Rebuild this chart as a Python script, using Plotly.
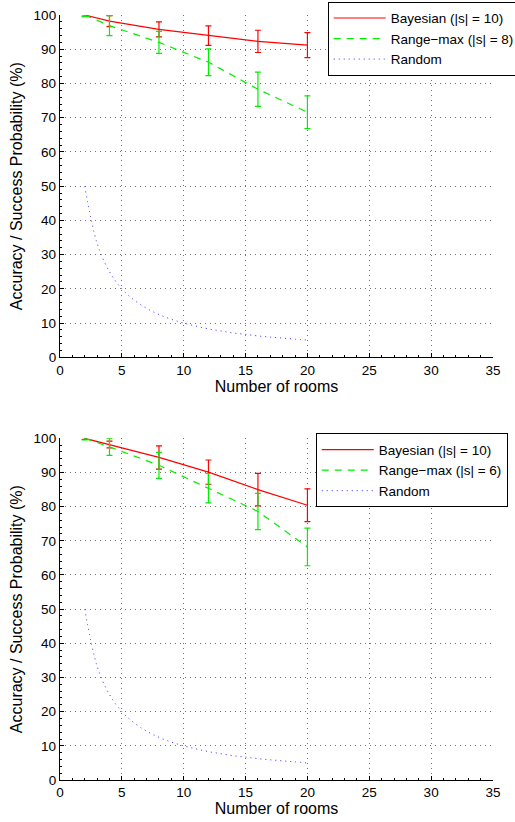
import plotly.graph_objects as go

rooms = [2, 4, 8, 12, 16, 20]

# Top panel
bayes_top = [100, 98.2, 95.8, 94.0, 92.3, 91.2]
bayes_top_err = [0.3, 1.6, 2.2, 2.85, 3.25, 3.65]
range_top = [100, 96.9, 92.0, 86.2, 78.3, 71.6]
range_top_err = [0.5, 2.9, 3.2, 3.9, 5.0, 4.8]

# Bottom panel
bayes_bot = [100, 98.2, 94.4, 90.1, 85.0, 80.4]
bayes_bot_err = [0.3, 1.0, 3.4, 3.55, 4.75, 4.8]
range_bot = [100, 97.5, 92.1, 85.4, 78.6, 68.2]
range_bot_err = [0.5, 2.5, 3.8, 4.3, 5.3, 5.5]

# Random guess curve
random_x = [2, 3, 4, 5, 6, 7, 8, 9, 10, 11, 12, 13, 14, 15, 16, 17, 18, 19, 20]
random_y = [50, 33.3, 25, 20, 16.7, 14.3, 12.5, 11.1, 10, 9.1, 8.3, 7.7, 7.1,
            6.7, 6.25, 5.9, 5.6, 5.3, 5]

legend_top = ["Bayesian (|s| = 10)", "Range\u2212max (|s| = 8)", "Random"]
legend_bot = ["Bayesian (|s| = 10)", "Range\u2212max (|s| = 6)", "Random"]

x_ticks = [0, 5, 10, 15, 20, 25, 30, 35]
y_ticks = [0, 10, 20, 30, 40, 50, 60, 70, 80, 90, 100]

RED = "#ff0000"
GREEN = "#00ee00"
BLUE = "#3030ff"
FONT = "Liberation Sans, Arial, sans-serif"

W, H = 515, 822
L, R, T, B = 59.5, 493.3, 15, 780   # plot area edges (px)
PW, PH = R - L, B - T

fig = go.Figure()


def add_panel(xa, ya, leg, bayes, berr, rng, rerr, names):
    fig.add_trace(go.Scatter(
        x=rooms, y=bayes, name=names[0], mode="lines",
        line=dict(color=RED, width=1.2),
        error_y=dict(type="data", array=berr, color=RED, thickness=1.2, width=3),
        xaxis=xa, yaxis=ya, legend=leg))
    fig.add_trace(go.Scatter(
        x=rooms, y=rng, name=names[1], mode="lines",
        line=dict(color=GREEN, width=1.2, dash="7px,6px"),
        error_y=dict(type="data", array=rerr, color=GREEN, thickness=1.2, width=3),
        xaxis=xa, yaxis=ya, legend=leg))
    fig.add_trace(go.Scatter(
        x=random_x, y=random_y, name=names[2], mode="lines",
        line=dict(color=BLUE, width=1, dash="1px,4px", shape="spline"),
        xaxis=xa, yaxis=ya, legend=leg))


add_panel("x", "y", "legend", bayes_top, bayes_top_err, range_top, range_top_err, legend_top)
add_panel("x2", "y2", "legend2", bayes_bot, bayes_bot_err, range_bot, range_bot_err, legend_bot)

axis_common = dict(
    showline=True, linecolor="black", linewidth=1.3,
    ticks="inside", ticklen=4, tickcolor="black",
    showgrid=True, gridcolor="rgba(0,0,0,0.55)", griddash="1px,4px", gridwidth=1,
    zeroline=False, tickfont=dict(size=13.5, color="black", family=FONT),
    mirror=False, automargin=False,
)

xaxis_cfg = dict(axis_common, range=[0, 35], tickvals=x_ticks,
                 title=dict(text="Number of rooms", font=dict(size=16, family=FONT, color="black"), standoff=2),
                 minor=dict(ticks="inside", ticklen=2, tickcolor="black", dtick=1, showgrid=False))
yaxis_cfg = dict(axis_common, range=[0, 100], tickvals=y_ticks,
                 title=dict(text="Accuracy / Success Probability (%)", font=dict(size=16, family=FONT, color="black"), standoff=7),
                 minor=dict(ticks="inside", ticklen=2, tickcolor="black", dtick=2, showgrid=False))


def ydom(top_px, bot_px):
    return [(B - bot_px) / PH, (B - top_px) / PH]


legend_common = dict(xanchor="left", yanchor="top",
                     bordercolor="black", borderwidth=1, bgcolor="white",
                     font=dict(size=13.5, family=FONT, color="black"),
                     tracegroupgap=0, itemwidth=52)

fig.update_layout(
    width=W, height=H,
    margin=dict(l=L, r=W - R, t=T, b=H - B, autoexpand=False),
    paper_bgcolor="white", plot_bgcolor="white",
    font=dict(family=FONT, color="black"),
    xaxis=dict(xaxis_cfg, domain=[0, 1], anchor="y"),
    yaxis=dict(yaxis_cfg, domain=ydom(15, 357.3), anchor="x"),
    xaxis2=dict(xaxis_cfg, domain=[0, 1], anchor="y2"),
    yaxis2=dict(yaxis_cfg, domain=ydom(438.3, 780), anchor="x2"),
    legend=dict(legend_common, x=(327.7 - L) / PW, y=(B - 1.7) / PH),
    legend2=dict(legend_common, x=(315.7 - L) / PW, y=(B - 433.3) / PH),
    showlegend=True,
)

fig.write_html("out.html", config={"displayModeBar": False},
               post_script="document.body.style.margin='0px';")
